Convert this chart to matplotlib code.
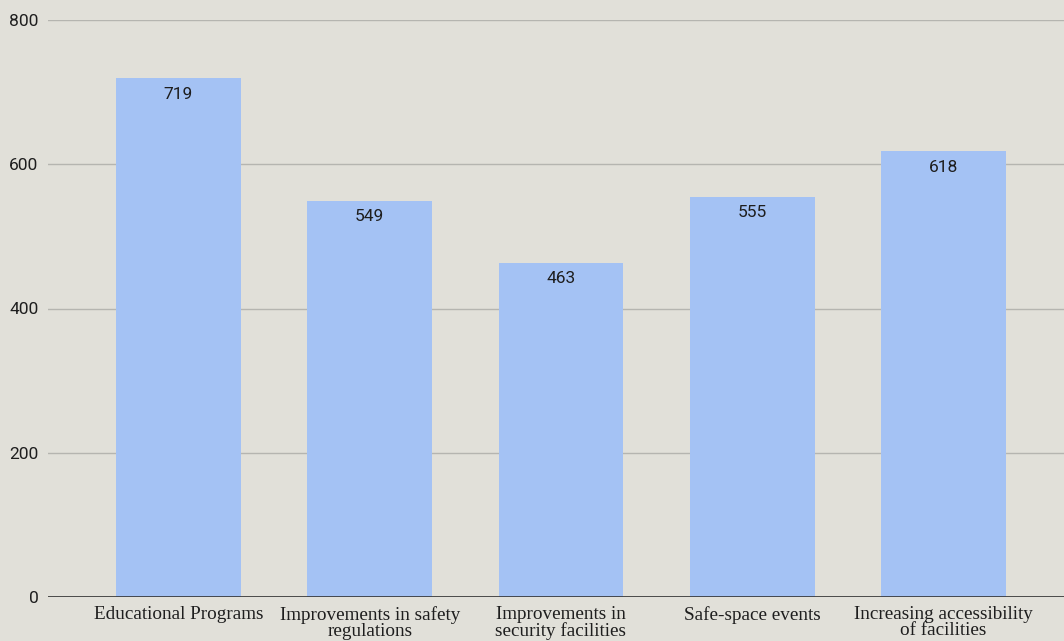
import matplotlib
matplotlib.use("Agg")
import matplotlib.pyplot as plt

categories = [
    "Educational Programs",
    "Improvements in safety\nregulations",
    "Improvements in\nsecurity facilities",
    "Safe-space events",
    "Increasing accessibility\nof facilities",
]
counts = [719, 549, 463, 555, 618]
y_ticks = [0, 200, 400, 600, 800]

bg = "#e1e0d9"
bar_color = "#a4c2f4"

fig = plt.figure(figsize=(10.64, 6.41), dpi=100, facecolor=bg)
ax = fig.add_axes([48 / 1064, 1 - 597 / 641, 1 - 48 / 1064, 577 / 641])
ax.set_facecolor(bg)

x = range(len(categories))
bars = ax.bar(x, counts, width=0.653, color=bar_color, zorder=2)

# value labels just inside the top of each bar
for xi, v in zip(x, counts):
    ax.annotate(str(v), (xi, v), xytext=(0, -6), textcoords="offset points",
                ha="center", va="top", fontsize=12.5, color="#1e1e1e",
                family="Roboto", zorder=3)

ax.set_ylim(0, 800)
ax.set_xlim(-0.682, 4.63)
ax.set_yticks(y_ticks)
ax.set_yticklabels([str(t) for t in y_ticks], family="Roboto", fontsize=12.5,
                   color="#1e1e1e")
ax.set_xticks(list(x))
ax.set_xticklabels(categories, family="Liberation Serif", fontsize=13.8,
                   color="#1e1e1e", linespacing=0.92)

ax.grid(axis="y", color="#b5b5b0", linewidth=1, zorder=0)
ax.axhline(0, color="#333333", linewidth=1.2, zorder=3)
ax.tick_params(axis="both", length=0)
ax.tick_params(axis="y", pad=7)
ax.tick_params(axis="x", pad=6.5)
for s in ax.spines.values():
    s.set_visible(False)

fig.savefig("out.png", dpi=100, facecolor=bg)
